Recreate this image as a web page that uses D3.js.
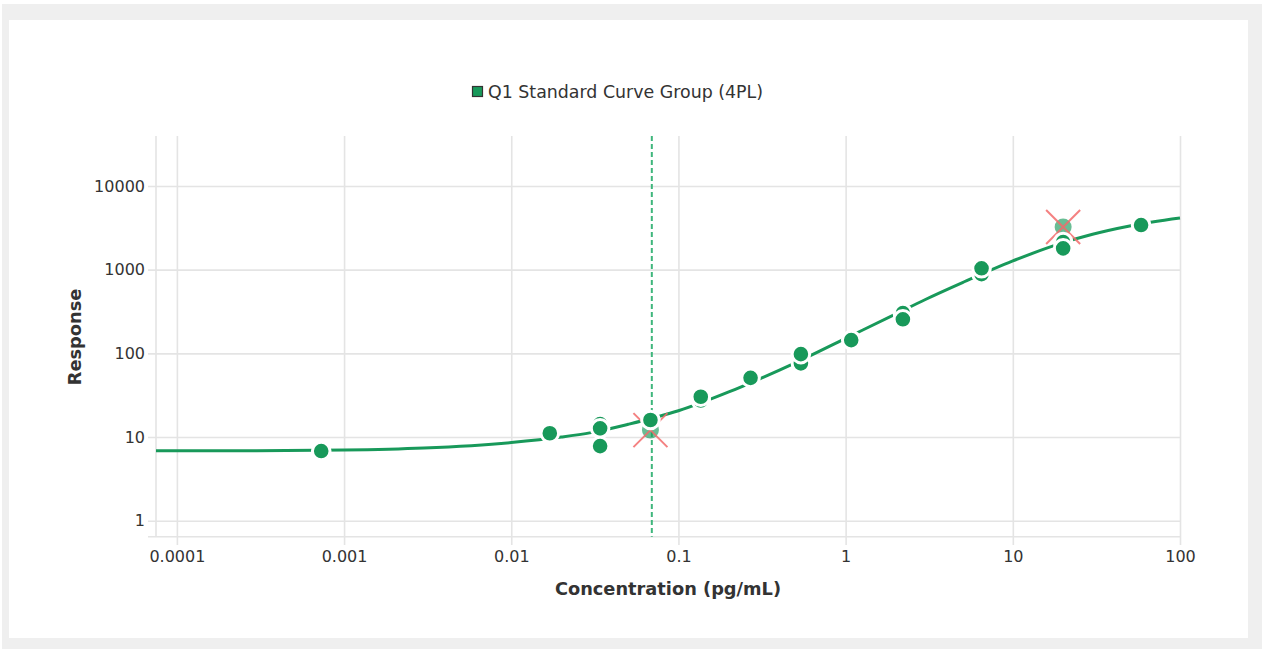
<!DOCTYPE html>
<html>
<head>
<meta charset="utf-8">
<script src="https://cdn.jsdelivr.net/npm/d3@7"></script>
<style>
  body { margin: 0; background: #fff; }
  svg { display: block; font-family: "DejaVu Sans", Verdana, sans-serif; }
</style>
</head>
<body>
<svg id="canvas" width="1265" height="649"></svg>
<script>
// tick values and labels
const xTicks = [0.0001, 0.001, 0.01, 0.1, 1, 10, 100];
const xTickLabels = ["0.0001", "0.001", "0.01", "0.1", "1", "10", "100"];
const yTicks = [1, 10, 100, 1000, 10000];
const yTickLabels = ["1", "10", "100", "1000", "10000"];

// standards (back to front, replicates share a concentration)
const stdConc = [0.00073, 0.017, 0.034, 0.034, 0.034, 0.068, 0.136, 0.136, 0.27, 0.54, 0.54, 1.08, 2.2, 2.2, 6.5, 6.5, 20, 20, 58.5];
const stdResp = [6.8, 11.1, 14.3, 12.7, 7.8, 16.0, 27.3, 30.3, 51, 76, 98, 144, 302, 255, 885, 1037, 2135, 1796, 3410];

// excluded (outlier) standards
const excConc = [0.068, 20];
const excResp = [12.1, 3228];

// fitted 4PL curve
const fitConc = [0.000075, 0.0003, 0.001, 0.003, 0.01, 0.02, 0.03, 0.05, 0.1, 0.2, 0.3, 0.5, 1, 2, 3, 5, 10, 20, 30, 50, 100];
const fitResp = [6.85, 6.88, 7.0, 7.4, 8.6, 10.0, 11.3, 14.2, 20.6, 34.6, 48.7, 77, 151, 296, 440, 700, 1270, 2100, 2650, 3330, 4130];

// vertical marker line (LLOQ)
const markerConc = 0.0693;

const legendLabel = "Q1 Standard Curve Group (4PL)";
const green = "#18995a";

let canvas = d3.select("#canvas");

// background panels
canvas.append("rect").attr("x", 2).attr("y", 4).attr("width", 1260).attr("height", 645).attr("fill", "#efefef");
canvas.append("rect").attr("x", 9).attr("y", 20).attr("width", 1239).attr("height", 618).attr("fill", "#fff");

let x = d3.scaleLog().domain([0.000075, 100]).range([156, 1180]);
let y = d3.scaleLog().domain([0.645, 39500]).range([536.7, 136]);

// grid via axes
let xAxis = d3.axisBottom(x)
    .tickValues(xTicks)
    .tickFormat((d, i) => xTickLabels[i])
    .tickSize(-(545 - 136))
    .tickPadding(6);
let gx = canvas.append("g").attr("transform", "translate(0,545)").call(xAxis);

let yAxis = d3.axisLeft(y)
    .tickValues(yTicks)
    .tickFormat((d, i) => yTickLabels[i])
    .tickSize(-(1180 - 148))
    .tickPadding(3);
let gy = canvas.append("g").attr("transform", "translate(148,0)").call(yAxis);

[gx, gy].forEach(g => {
    g.select(".domain").remove();
    g.selectAll(".tick line").attr("stroke", "#e4e4e4").attr("stroke-width", 1.6);
    g.selectAll(".tick text").attr("fill", "#333").attr("font-size", 16)
        .attr("font-family", "DejaVu Sans, Verdana, sans-serif");
});

// plot frame (left and bottom)
canvas.append("line").attr("x1", 156).attr("x2", 156).attr("y1", 136).attr("y2", 536.7)
    .attr("stroke", "#e4e4e4").attr("stroke-width", 1.6);
canvas.append("line").attr("x1", 148).attr("x2", 1180).attr("y1", 536.7).attr("y2", 536.7)
    .attr("stroke", "#e4e4e4").attr("stroke-width", 1.6);

// axis titles
canvas.append("text")
    .attr("x", 668).attr("y", 595)
    .attr("text-anchor", "middle")
    .attr("font-size", 17.8).attr("font-weight", "bold").attr("fill", "#333")
    .text("Concentration (pg/mL)");
canvas.append("text")
    .attr("transform", "translate(81,337) rotate(-90)")
    .attr("text-anchor", "middle")
    .attr("font-size", 17.8).attr("font-weight", "bold").attr("fill", "#333")
    .text("Response");

// legend
canvas.append("rect").attr("x", 472.5).attr("y", 86.5).attr("width", 10).attr("height", 10)
    .attr("fill", green).attr("stroke", "#333").attr("stroke-width", 1.2);
canvas.append("text").attr("x", 488).attr("y", 98)
    .attr("font-size", 17.4).attr("fill", "#333")
    .text(legendLabel);

// marker line
canvas.append("line")
    .attr("x1", x(markerConc)).attr("x2", x(markerConc))
    .attr("y1", 136).attr("y2", 536.7)
    .attr("stroke", "#3fb67c").attr("stroke-width", 2)
    .attr("stroke-dasharray", "5,3");

// fitted curve
let fit = fitConc.map((c, i) => [c, fitResp[i]]);
canvas.append("path")
    .datum(fit)
    .attr("fill", "none")
    .attr("stroke", green)
    .attr("stroke-width", 3)
    .attr("d", d3.line().x(d => x(d[0])).y(d => y(d[1])).curve(d3.curveMonotoneX));

// excluded points with red crosses
let exc = excConc.map((c, i) => [c, excResp[i]]);
canvas.selectAll("circle.exc")
    .data(exc)
    .enter()
    .append("circle")
    .attr("class", "exc")
    .attr("cx", d => x(d[0]))
    .attr("cy", d => y(d[1]))
    .attr("r", 8.5)
    .attr("fill", green)
    .attr("opacity", 0.65);
let cross = canvas.selectAll("g.cross")
    .data(exc)
    .enter()
    .append("g")
    .attr("class", "cross")
    .attr("transform", d => `translate(${x(d[0])},${y(d[1])})`);
cross.append("path")
    .attr("d", "M-17,-17L17,17M17,-17L-17,17")
    .attr("stroke", "#f26b6b")
    .attr("stroke-opacity", 0.85)
    .attr("stroke-width", 2);

// standards
let pts = stdConc.map((c, i) => [c, stdResp[i]]);
canvas.selectAll("circle.std")
    .data(pts)
    .enter()
    .append("circle")
    .attr("class", "std")
    .attr("cx", d => x(d[0]))
    .attr("cy", d => y(d[1]))
    .attr("r", 8.8)
    .attr("fill", green)
    .attr("stroke", "#fff")
    .attr("stroke-width", 3);
</script>
</body>
</html>
